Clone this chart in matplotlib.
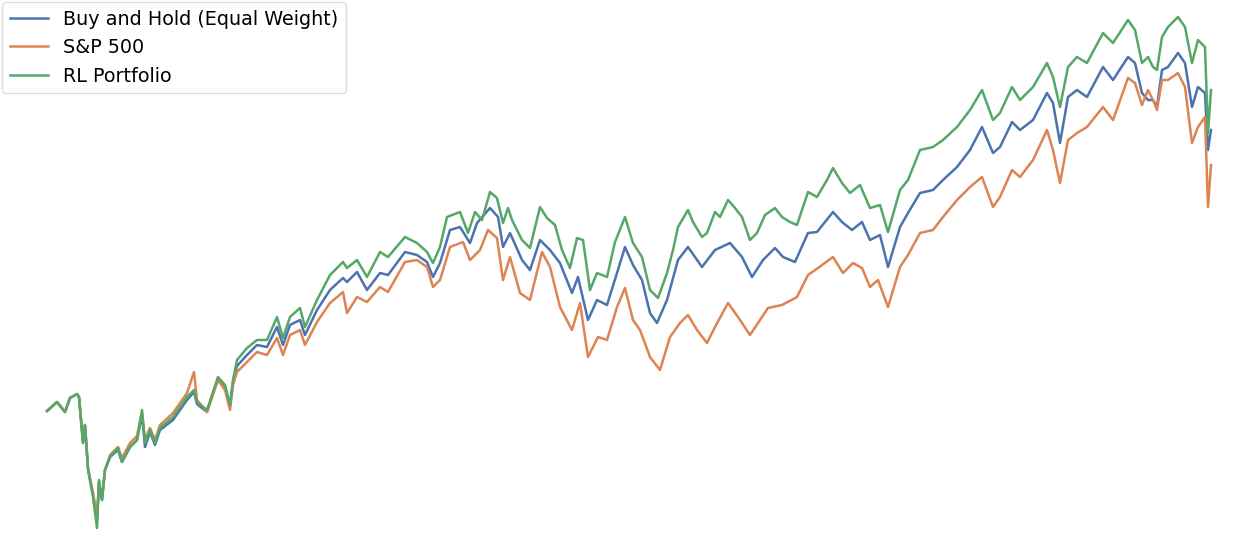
import matplotlib
matplotlib.use("Agg")
import matplotlib.pyplot as plt

# trading day index and portfolio value (index units).
# early and late stretches were read at shared days, the middle per series.
days_early = [47, 57, 65, 70, 77, 79, 83, 85, 88, 93, 97, 99, 102, 105, 110, 118, 122, 130, 137, 142,
              145, 150, 155, 160, 173, 187, 194, 197, 207, 218, 225, 230, 233, 237, 247, 257, 267, 277, 283, 290,
              300, 305, 317, 330, 343, 347, 357, 367, 380, 388, 405, 417, 427, 433]
days_late = [920, 933, 943, 957, 970, 982, 993, 1000, 1012, 1020, 1033, 1047, 1053, 1060, 1068, 1077, 1087,
             1103, 1113, 1128, 1135, 1142, 1148, 1153, 1157, 1162, 1168, 1178, 1185, 1192, 1198, 1205, 1208, 1211]

rl_early = [124, 133, 123, 137, 141, 138, 92, 110, 65, 38, 7, 55, 35, 65, 78, 87, 73, 88, 95, 125,
            92, 105, 92, 107, 118, 138, 145, 133, 125, 158, 150, 130, 155, 175, 187, 195, 195, 218, 197, 218,
            227, 208, 235, 260, 273, 267, 275, 258, 283, 278, 298, 292, 283, 272]
rl_mid_days = [440, 447, 460, 468, 475, 482, 490, 497, 503, 508, 512, 522, 530, 540, 547, 555, 562, 570, 577, 583,
               590, 597, 607, 615, 625, 633, 642, 650, 658, 667, 673, 678, 688, 693, 702, 707, 715, 720, 728, 735,
               742, 750, 757, 765, 775, 782, 790, 797, 808, 817, 827, 833, 842, 850, 860, 870, 880, 888, 900, 908]
rl_mid = [288, 318, 323, 302, 323, 315, 343, 337, 312, 327, 315, 295, 287, 328, 317, 310, 285, 267, 297, 295,
          245, 262, 258, 293, 318, 292, 278, 245, 237, 262, 285, 308, 325, 313, 298, 302, 323, 318, 335, 327,
          318, 295, 302, 320, 327, 318, 313, 310, 343, 338, 355, 367, 352, 342, 350, 327, 330, 303, 345, 355]
rl_late = [385, 388, 395, 408, 425, 445, 415, 422, 448, 435, 448, 472, 458, 428, 468, 478, 472,
           502, 492, 515, 505, 472, 478, 468, 465, 498, 508, 518, 508, 472, 495, 488, 402, 445]

bh_early = [124, 133, 123, 137, 141, 138, 92, 110, 67, 40, 15, 53, 35, 65, 78, 85, 73, 88, 95, 120,
            88, 103, 90, 105, 115, 135, 143, 131, 123, 157, 149, 129, 153, 169, 180, 190, 188, 208, 190, 210,
            215, 200, 225, 245, 257, 253, 263, 245, 262, 260, 283, 280, 273, 258]
bh_mid_days = [440, 450, 460, 470, 477, 490, 498, 503, 510, 522, 530, 540, 550, 560, 572, 578, 588, 597, 607, 617,
               625, 633, 642, 650, 657, 667, 678, 688, 702, 715, 730, 742, 752, 763, 775, 783, 795, 808, 817, 833,
               842, 852, 862, 870, 880, 888, 900, 908]
bh_mid = [272, 305, 308, 292, 312, 327, 318, 288, 302, 275, 265, 295, 285, 272, 242, 258, 215, 235, 230, 262,
          288, 270, 255, 222, 212, 235, 275, 288, 268, 285, 292, 278, 258, 275, 287, 278, 273, 302, 303, 323,
          313, 305, 313, 295, 300, 268, 308, 322]
bh_late = [342, 345, 355, 368, 385, 408, 382, 388, 413, 405, 415, 442, 432, 392, 438, 445, 438,
           468, 455, 478, 472, 442, 435, 435, 428, 465, 468, 482, 472, 428, 448, 442, 385, 405]

sp_early = [124, 133, 123, 137, 141, 138, 94, 110, 67, 42, 20, 51, 38, 65, 80, 88, 77, 92, 99, 123,
            95, 107, 95, 110, 122, 142, 163, 135, 123, 155, 145, 125, 150, 163, 173, 183, 180, 197, 180, 200,
            205, 190, 213, 232, 243, 222, 238, 233, 248, 243, 273, 275, 268, 248]
sp_mid_days = [440, 450, 463, 470, 480, 488, 497, 503, 510, 520, 530, 542, 550, 560, 572, 580, 588, 598, 607, 617,
               625, 633, 640, 650, 660, 670, 680, 688, 697, 707, 715, 728, 738, 750, 758, 768, 782, 797, 808, 818,
               833, 843, 853, 862, 870, 878, 888, 900, 908]
sp_mid = [255, 288, 293, 275, 285, 305, 297, 255, 278, 242, 235, 283, 268, 228, 205, 232, 178, 198, 195, 228,
          247, 215, 205, 178, 165, 198, 212, 220, 205, 192, 208, 232, 218, 200, 212, 227, 230, 238, 260, 267,
          278, 262, 272, 267, 248, 255, 228, 268, 280]
sp_late = [302, 305, 318, 335, 348, 358, 328, 338, 365, 358, 375, 405, 385, 352, 395, 402, 408,
           428, 415, 457, 452, 430, 445, 435, 425, 455, 455, 462, 448, 392, 408, 418, 328, 370]

fig = plt.figure(figsize=(12.37, 5.35), dpi=100)
ax = fig.add_axes([0, 0, 1, 1])

ax.plot(days_early + bh_mid_days + days_late, bh_early + bh_mid + bh_late,
        color="#4C72B0", lw=1.8, label="Buy and Hold (Equal Weight)")
ax.plot(days_early + sp_mid_days + days_late, sp_early + sp_mid + sp_late,
        color="#DD8452", lw=1.8, label="S&P 500")
ax.plot(days_early + rl_mid_days + days_late, rl_early + rl_mid + rl_late,
        color="#55A868", lw=1.8, label="RL Portfolio")

ax.set_xlim(0, 1237)
ax.set_ylim(0, 535)
ax.axis("off")

ax.legend(loc="upper left", bbox_to_anchor=(0.0, 1.0), borderaxespad=0.1, fontsize=13.8,
          handlelength=2.0, framealpha=1.0, edgecolor="#dddddd")

fig.savefig("out.png", dpi=100)
